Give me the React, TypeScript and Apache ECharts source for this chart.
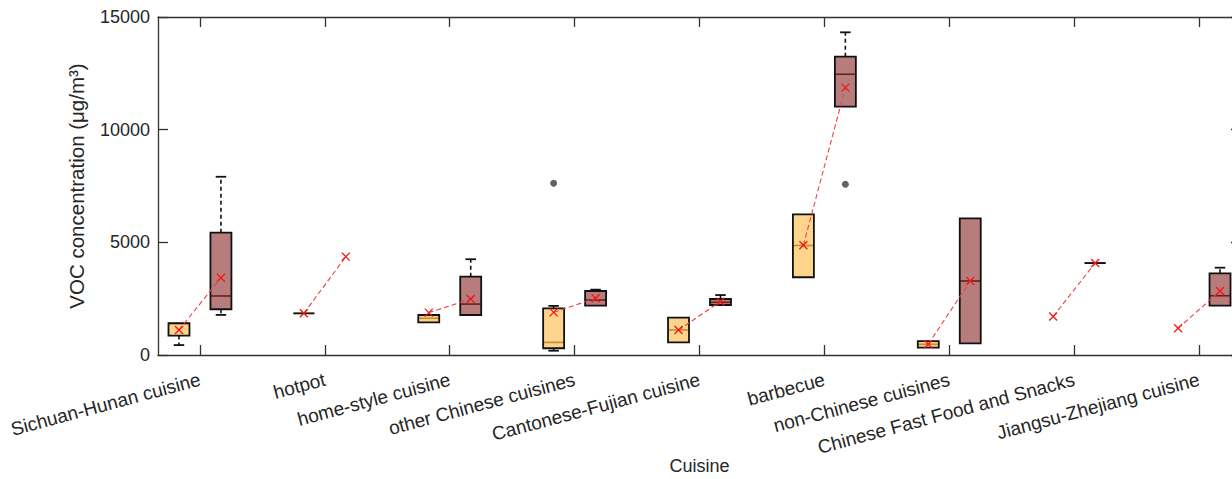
import React, { useEffect, useRef } from "react";
import * as echarts from "echarts";

const categories = [
  "Sichuan-Hunan cuisine",
  "hotpot",
  "home-style cuisine",
  "other Chinese cuisines",
  "Cantonese-Fujian cuisine",
  "barbecue",
  "non-Chinese cuisines",
  "Chinese Fast Food and Snacks",
  "Jiangsu-Zhejiang cuisine",
];

// [lower whisker, Q1, median, Q3, upper whisker]; null = no box drawn
const boxStatsA: (number[] | null)[] = [
  [440, 860, 1400, 1410, 1410],
  [1850, 1850, 1850, 1850, 1850],
  [1450, 1450, 1630, 1775, 1775],
  [190, 300, 560, 2070, 2180],
  [560, 560, 1110, 1655, 1655],
  [3450, 3450, 4860, 6240, 6240],
  [325, 325, 475, 620, 620],
  null,
  null,
];
const boxStatsB: (number[] | null)[] = [
  [1780, 2030, 2620, 5430, 7910],
  null,
  [1775, 1775, 2260, 3475, 4250],
  [2190, 2190, 2440, 2840, 2900],
  [2220, 2220, 2340, 2485, 2660],
  [11020, 11020, 12460, 13240, 14320],
  [520, 520, 3285, 6065, 6065],
  [4080, 4080, 4080, 4080, 4080],
  [2190, 2190, 2630, 3625, 3875],
];
const meansA = [1110, 1850, 1880, 1890, 1110, 4870, 480, 1710, 1185];
const meansB = [3430, 4365, 2485, 2520, 2370, 11865, 3285, 4080, 2840];
// [category number (1-based), value]
const outliersA = [[4, 7620]];
const outliersB = [[6, 7575]];
const yTicks = [0, 5000, 10000, 15000];

const OFF = 0.168;
const BOX_W = 0.168;
const FONT = "'Liberation Sans', Arial, Helvetica, sans-serif";
const TXT = "#262626";
const AX = "#333333";
const tickPos = categories.map((_, i) => i + 1);

function boxData(stats: (number[] | null)[], sign: number) {
  const out: number[][] = [];
  stats.forEach((s, i) => {
    if (s) out.push([i + 1 + sign * OFF, ...s]);
  });
  return out;
}

function makeBoxRender(fill: string, medColor: string) {
  return (params: any, api: any) => {
    const x = api.value(0);
    const lo = api.value(1), q1 = api.value(2), med = api.value(3), q3 = api.value(4), hi = api.value(5);
    const w = api.size([BOX_W, 0])[0];
    const pQ1 = api.coord([x, q1]);
    const pQ3 = api.coord([x, q3]);
    const pMed = api.coord([x, med]);
    const pLo = api.coord([x, lo]);
    const pHi = api.coord([x, hi]);
    const cx = pQ1[0];
    const left = cx - w / 2;
    const capW = w / 2;
    const children: any[] = [];
    const whisk = { stroke: "#111", lineWidth: 1.6, lineDash: [4, 3] };
    const cap = { stroke: "#111", lineWidth: 1.8 };
    if (pHi[1] < pQ3[1] - 0.5) {
      children.push({ type: "line", shape: { x1: cx, y1: pQ3[1], x2: cx, y2: pHi[1] }, style: whisk });
      children.push({ type: "line", shape: { x1: cx - capW / 2, y1: pHi[1], x2: cx + capW / 2, y2: pHi[1] }, style: cap });
    }
    if (pLo[1] > pQ1[1] + 0.5) {
      children.push({ type: "line", shape: { x1: cx, y1: pQ1[1], x2: cx, y2: pLo[1] }, style: whisk });
      children.push({ type: "line", shape: { x1: cx - capW / 2, y1: pLo[1], x2: cx + capW / 2, y2: pLo[1] }, style: cap });
    }
    children.push({
      type: "rect",
      shape: { x: left, y: pQ3[1], width: w, height: pQ1[1] - pQ3[1] },
      style: { fill, stroke: "none" },
    });
    children.push({
      type: "line",
      shape: { x1: left, y1: pMed[1], x2: left + w, y2: pMed[1] },
      style: { stroke: medColor, lineWidth: 1.6 },
    });
    children.push({
      type: "rect",
      shape: { x: left, y: pQ3[1], width: w, height: pQ1[1] - pQ3[1] },
      style: { fill: "none", stroke: "#111", lineWidth: 1.8 },
    });
    return { type: "group", children };
  };
}

export default function App() {
  const ref = useRef<HTMLDivElement>(null);
  useEffect(() => {
    if (!ref.current) return;
    const chart = echarts.init(ref.current, null, { renderer: "svg" });
    const meanData = categories.map((_, i) => [i + 1, meansA[i], meansB[i]]);
    const axisCommon = {
      min: 0.664,
      max: 9.336,
      splitLine: { show: false },
      axisLine: { show: true, onZero: false, lineStyle: { color: AX, width: 1.3 } },
      axisTick: { show: true, inside: true, length: 10, customValues: tickPos, lineStyle: { color: AX, width: 1.3 } },
    };
    const yCommon = {
      type: "value",
      min: 0,
      max: 15000,
      interval: 5000,
      splitLine: { show: false },
      axisLine: { show: true, onZero: false, lineStyle: { color: AX, width: 1.3 } },
      axisTick: { show: true, inside: true, length: 10, lineStyle: { color: AX, width: 1.3 } },
    };
    chart.setOption({
      animation: false,
      backgroundColor: "#ffffff",
      grid: { left: 158, top: 17, width: 1083, height: 338, containLabel: false, outerBoundsMode: "none" },
      xAxis: [
        {
          type: "value",
          position: "bottom",
          ...axisCommon,
          axisLabel: {
            customValues: tickPos,
            formatter: (v: number) => categories[Math.round(v) - 1] || "",
            rotate: 15,
            margin: 24,
            fontSize: 19,
            color: TXT,
            fontFamily: FONT,
          },
          name: "Cuisine",
          nameLocation: "middle",
          nameGap: 102,
          nameMoveOverlap: false,
          nameTextStyle: { fontSize: 18, color: TXT, fontFamily: FONT },
        },
        {
          type: "value",
          position: "top",
          ...axisCommon,
          axisLabel: { show: false },
        },
      ],
      yAxis: [
        {
          ...yCommon,
          position: "left",
          axisLabel: {
            show: true,
            fontSize: 18,
            color: TXT,
            fontFamily: FONT,
            margin: 8,
            customValues: yTicks,
            formatter: (v: number) => String(v),
          },
          name: "VOC concentration (μg/m³)",
          nameLocation: "middle",
          nameRotate: 90,
          nameGap: 71,
          nameMoveOverlap: false,
          nameTextStyle: { fontSize: 20.5, color: TXT, fontFamily: FONT },
        },
        {
          ...yCommon,
          position: "right",
          axisLabel: { show: false },
        },
      ],
      series: [
        {
          type: "custom",
          name: "group A",
          xAxisIndex: 0,
          yAxisIndex: 0,
          data: boxData(boxStatsA, -1),
          encode: { x: 0, y: [1, 2, 3, 4, 5] },
          renderItem: makeBoxRender("#FDD48C", "#C98A2E"),
          z: 2,
        },
        {
          type: "custom",
          name: "group B",
          xAxisIndex: 0,
          yAxisIndex: 0,
          data: boxData(boxStatsB, 1),
          encode: { x: 0, y: [1, 2, 3, 4, 5] },
          renderItem: makeBoxRender("#B77D7D", "#6E1E1E"),
          z: 2,
        },
        {
          type: "scatter",
          xAxisIndex: 0,
          yAxisIndex: 0,
          data: [
            ...outliersA.map((o) => [o[0] - OFF, o[1]]),
            ...outliersB.map((o) => [o[0] + OFF, o[1]]),
          ],
          symbol: "circle",
          symbolSize: 7,
          itemStyle: { color: "#3c3c3c" },
          z: 3,
        },
        {
          type: "custom",
          name: "means",
          xAxisIndex: 0,
          yAxisIndex: 0,
          data: meanData,
          encode: { x: 0, y: [1, 2] },
          z: 4,
          renderItem: (params: any, api: any) => {
            const c = api.value(0);
            const a = api.coord([c - OFF, api.value(1)]);
            const b = api.coord([c + OFF, api.value(2)]);
            const s = 4;
            const xMark = (p: number[]) => [
              { type: "line", shape: { x1: p[0] - s, y1: p[1] - s, x2: p[0] + s, y2: p[1] + s }, style: { stroke: "#F01818", lineWidth: 1.3 } },
              { type: "line", shape: { x1: p[0] - s, y1: p[1] + s, x2: p[0] + s, y2: p[1] - s }, style: { stroke: "#F01818", lineWidth: 1.3 } },
            ];
            return {
              type: "group",
              children: [
                { type: "line", shape: { x1: a[0], y1: a[1], x2: b[0], y2: b[1] }, style: { stroke: "#F04040", lineWidth: 1.1, lineDash: [5, 3] } },
                ...xMark(a),
                ...xMark(b),
              ],
            };
          },
        },
      ],
    });
    return () => chart.dispose();
  }, []);
  return (
    <div style={{ position: "fixed", left: 0, top: 0, width: 1232, height: 479, overflow: "hidden", background: "#fff" }}>
      <div ref={ref} style={{ width: 1260, height: 479 }} />
    </div>
  );
}
